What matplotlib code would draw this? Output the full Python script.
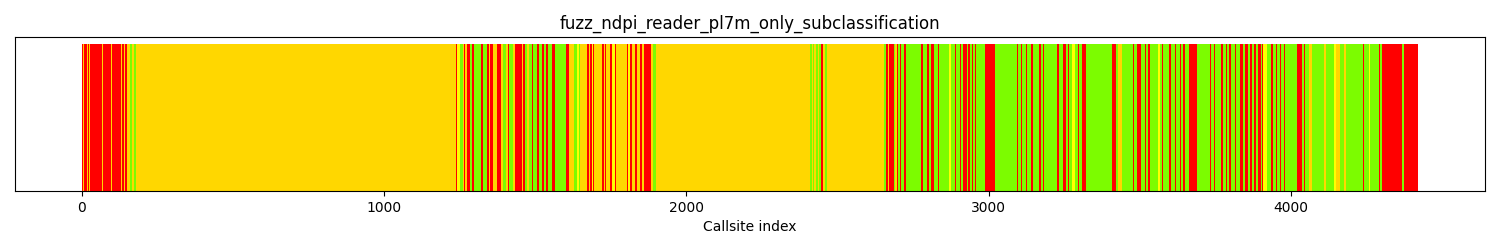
import matplotlib
matplotlib.use("Agg")
import matplotlib.pyplot as plt
import numpy as np

# callsite classification, run-length encoded: (kind, number of callsites)
# R = red, O = gold, Y = yellow, G = lawngreen
runs = [
    ("R", 3), ("O", 3), ("R", 10), ("O", 3), ("R", 4), ("O", 5), ("R", 38), ("O", 5),
    ("R", 25), ("O", 3), ("R", 29), ("O", 4), ("R", 8), ("O", 4), ("R", 5), ("O", 9),
    ("G", 8), ("O", 6), ("G", 8), ("O", 1059),
    # dense block around 1250-1900
    ("R", 4), ("Y", 10), ("G", 8), ("O", 5), ("R", 3), ("O", 6), ("R", 8), ("G", 9),
    ("R", 6), ("G", 22), ("R", 6), ("G", 16), ("R", 6), ("O", 3), ("R", 8), ("O", 16),
    ("R", 11), ("O", 8), ("G", 9), ("O", 6), ("R", 6), ("G", 11), ("O", 6), ("R", 25),
    ("O", 4), ("R", 7), ("G", 6), ("O", 6), ("G", 8), ("R", 6), ("G", 13), ("R", 7),
    ("G", 8), ("R", 6), ("G", 9), ("R", 6), ("G", 13), ("R", 11), ("G", 16),
    ("G", 19), ("R", 9), ("O", 16), ("G", 11), ("Y", 6), ("G", 6), ("O", 22), ("R", 6),
    ("O", 5), ("R", 6), ("Y", 3), ("R", 4), ("O", 25), ("R", 6), ("O", 5), ("R", 3),
    ("O", 13), ("R", 6), ("Y", 11), ("R", 3), ("O", 8), ("R", 3), ("O", 24), ("R", 3),
    ("Y", 8), ("R", 5), ("O", 11), ("R", 6), ("O", 11), ("R", 5), ("O", 9), ("R", 22),
    ("O", 8), ("G", 9), ("O", 511),
    # around 2410-2730
    ("G", 4), ("O", 3), ("G", 6), ("O", 5), ("G", 6), ("O", 5), ("G", 6), ("R", 5),
    ("O", 8), ("G", 7), ("O", 187), ("G", 8), ("R", 5), ("O", 6), ("R", 14), ("G", 4),
    ("O", 7), ("R", 5), ("G", 6), ("R", 4), ("G", 9), ("R", 6), ("G", 5),
    # mostly green 2730-3130
    ("G", 44), ("R", 8), ("G", 14), ("R", 4), ("G", 8), ("R", 11), ("G", 11), ("R", 4),
    ("G", 35), ("Y", 6), ("G", 11), ("R", 4), ("G", 13), ("R", 4), ("G", 8), ("R", 11),
    ("G", 6), ("R", 4), ("G", 8), ("R", 3), ("G", 6), ("R", 4), ("G", 31), ("R", 31),
    ("G", 74), ("R", 4), ("G", 8), ("R", 4), ("G", 13), ("R", 4), ("G", 7),
    # 3130-3765
    ("G", 5), ("R", 8), ("G", 18), ("R", 9), ("G", 4), ("R", 4), ("G", 43), ("R", 9),
    ("G", 11), ("R", 11), ("G", 6), ("R", 4), ("G", 8), ("Y", 11), ("G", 11), ("R", 3),
    ("G", 8), ("R", 16), ("G", 86), ("R", 11), ("G", 8), ("O", 14), ("G", 35), ("R", 4),
    ("G", 8), ("R", 16), ("G", 11), ("R", 4), ("G", 8), ("R", 4), ("G", 29), ("Y", 6),
    ("G", 5), ("R", 4), ("G", 22), ("R", 5), ("G", 13), ("R", 4), ("G", 13), ("R", 4),
    ("G", 7), ("R", 4), ("G", 13), ("R", 27), ("G", 44), ("R", 3), ("G", 11), ("R", 4),
    ("G", 14),
    # tail
    ("G", 6), ("R", 4), ("G", 11), ("R", 4), ("G", 7), ("R", 4), ("G", 15), ("R", 4),
    ("G", 11), ("R", 11), ("G", 6), ("R", 11), ("G", 8), ("R", 4), ("G", 7), ("R", 7),
    ("G", 7), ("R", 9), ("G", 5), ("R", 4), ("Y", 13), ("G", 13), ("R", 4), ("G", 10),
    ("R", 4), ("G", 10), ("R", 3), ("G", 11), ("R", 3), ("G", 41), ("R", 17), ("G", 5),
    ("R", 4), ("G", 13), ("O", 11), ("G", 38), ("O", 6), ("G", 27), ("Y", 6), ("O", 14),
    ("G", 13), ("O", 6), ("G", 58), ("R", 4), ("G", 14), ("Y", 6), ("G", 27), ("R", 4),
    ("G", 7), ("R", 66), ("G", 8), ("R", 46),
]

palette = {"R": "red", "O": "gold", "Y": "yellow", "G": "lawngreen"}

kinds = []
for k, n in runs:
    kinds += [k] * n
colors = [palette[k] for k in kinds]
idx = np.arange(len(kinds))

fig, ax = plt.subplots(figsize=(15, 2.5))
ax.bar(idx, np.ones(len(idx)), width=1.0, color=colors, linewidth=0)
ax.set_yticks([])
ax.set_xlabel("Callsite index")
ax.set_title("fuzz_ndpi_reader_pl7m_only_subclassification")
fig.subplots_adjust(left=0.01, right=0.99, top=0.852, bottom=0.236)
plt.savefig("out.png", dpi=100)
